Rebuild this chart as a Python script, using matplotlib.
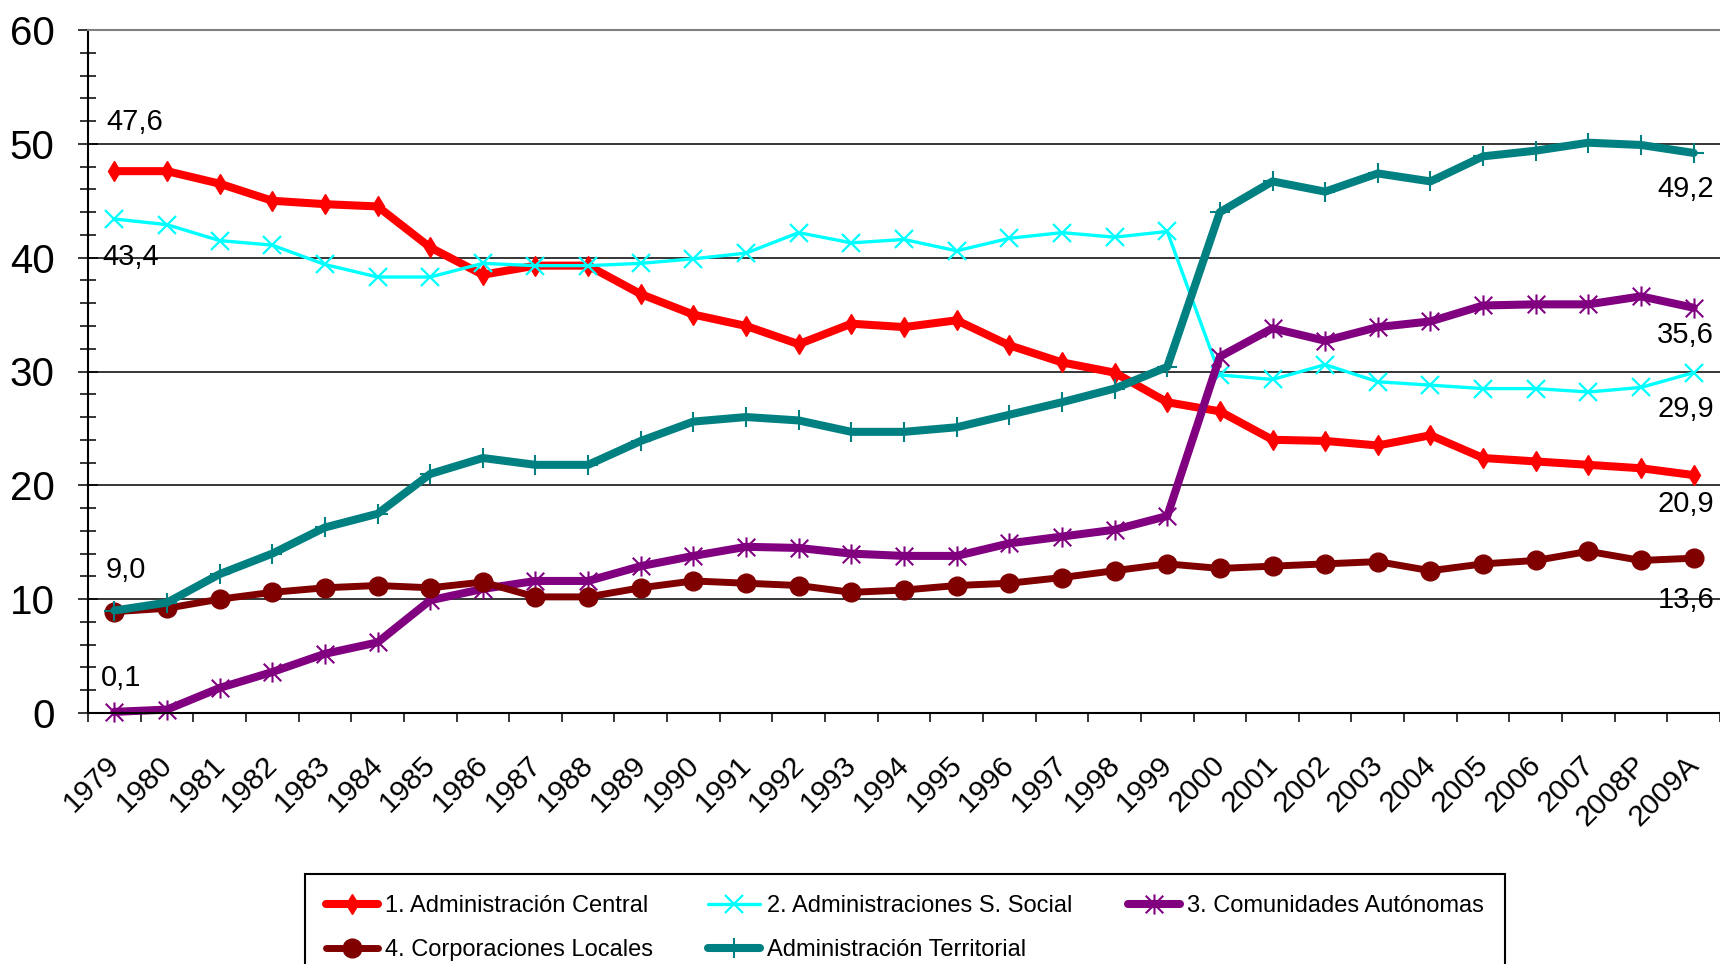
import matplotlib
matplotlib.use('Agg')
import matplotlib.pyplot as plt
from matplotlib.path import Path
from matplotlib.ticker import MultipleLocator, FixedLocator
from matplotlib.transforms import ScaledTranslation
import numpy as np

plt.rcParams['font.family'] = ['Liberation Sans', 'DejaVu Sans']

# ---------------- data ----------------
years = ['1979', '1980', '1981', '1982', '1983', '1984', '1985', '1986', '1987', '1988',
         '1989', '1990', '1991', '1992', '1993', '1994', '1995', '1996', '1997', '1998',
         '1999', '2000', '2001', '2002', '2003', '2004', '2005', '2006', '2007', '2008P',
         '2009A']

central = [47.6, 47.6, 46.5, 45.0, 44.7, 44.5, 40.9, 38.5, 39.3, 39.3,
           36.8, 35.0, 34.0, 32.4, 34.2, 33.9, 34.5, 32.3, 30.8, 29.9,
           27.3, 26.5, 24.0, 23.9, 23.5, 24.4, 22.4, 22.1, 21.8, 21.5,
           20.9]
seg_social = [43.4, 42.9, 41.5, 41.1, 39.4, 38.3, 38.3, 39.5, 39.3, 39.3,
              39.5, 39.9, 40.4, 42.2, 41.3, 41.6, 40.6, 41.7, 42.2, 41.8,
              42.3, 29.7, 29.3, 30.6, 29.1, 28.8, 28.5, 28.5, 28.2, 28.6,
              29.9]
ccaa = [0.1, 0.3, 2.2, 3.6, 5.2, 6.2, 9.9, 10.9, 11.6, 11.6,
        12.9, 13.8, 14.6, 14.5, 14.0, 13.8, 13.8, 14.9, 15.5, 16.1,
        17.3, 31.3, 33.8, 32.7, 33.9, 34.4, 35.8, 35.9, 35.9, 36.6,
        35.6]
ccll = [8.9, 9.2, 10.0, 10.6, 11.0, 11.2, 11.0, 11.5, 10.2, 10.2,
        11.0, 11.6, 11.4, 11.2, 10.6, 10.8, 11.2, 11.4, 11.9, 12.5,
        13.1, 12.7, 12.9, 13.1, 13.3, 12.5, 13.1, 13.4, 14.2, 13.4,
        13.6]
territorial = [9.0, 9.7, 12.2, 14.0, 16.3, 17.5, 21.0, 22.4, 21.8, 21.8,
               23.9, 25.6, 26.0, 25.7, 24.7, 24.7, 25.1, 26.2, 27.3, 28.5,
               30.4, 44.0, 46.7, 45.8, 47.4, 46.7, 48.9, 49.4, 50.1, 49.9,
               49.2]

series_names = ['1. Administración Central', '2. Administraciones S. Social',
                '3. Comunidades Autónomas', '4. Corporaciones Locales',
                'Administración Territorial']

# ---------------- styles ----------------
asterisk = Path([(-1, -1), (1, 1), (-1, 1), (1, -1), (0, -1.15), (0, 1.15)],
                [Path.MOVETO, Path.LINETO, Path.MOVETO, Path.LINETO, Path.MOVETO, Path.LINETO])

styles = [
    dict(color='#FF0000', lw=5.8, marker='d', ms=9.8, mew=1.0, mec='#FF0000', mfc='#FF0000'),
    dict(color='#00FFFF', lw=2.4, marker='x', ms=13.5, mew=1.6, mec='#00FFFF'),
    dict(color='#800080', lw=5.8, marker=asterisk, ms=14.5, mew=1.5, mec='#800080'),
    dict(color='#800000', lw=5.0, marker='o', ms=13.5, mew=1.0, mec='#800000', mfc='#800000'),
    dict(color='#008080', lw=5.8, marker='+', ms=14.5, mew=1.5, mec='#008080'),
]

W, H = 1720, 964
fig = plt.figure(figsize=(W / 100, H / 100), dpi=100)
ax = fig.add_axes([88 / W, 1 - 713 / H, 1 - 88 / W, (713 - 30) / H])

x = np.arange(len(years))
all_series = [central, seg_social, ccaa, ccll, territorial]
lines = []
for vals, name, st in zip(all_series, series_names, styles):
    ln, = ax.plot(x, vals, label=name, clip_on=False, solid_joinstyle='round',
                  solid_capstyle='round', **st)
    lines.append(ln)

ax.set_xlim(-0.5, len(years) - 0.5)
ax.set_ylim(0, 60)

# y axis
ax.set_yticks(range(0, 61, 10))
ax.yaxis.set_minor_locator(MultipleLocator(2))
ax.tick_params(axis='y', which='major', direction='inout', length=14.4, width=1.1,
               labelsize=29, pad=17, colors='black')
ax.tick_params(axis='y', which='minor', direction='inout', length=12, width=1.1)
ax.yaxis.grid(True, which='major', color='black', lw=1.1)
ax.set_axisbelow(True)
ax.get_ygridlines()[-1].set_color('#808080')

# x axis
ax.set_xticks(x)
ax.set_xticklabels(years, rotation=45, ha='right', va='center', rotation_mode='anchor')
ax.xaxis.set_minor_locator(FixedLocator(np.arange(-0.5, len(years), 1.0)))
ax.tick_params(axis='x', which='major', length=0, pad=34, labelsize=21.5)
ax.tick_params(axis='x', which='minor', direction='out', length=6.5, width=1.1)
off = ScaledTranslation(1 / 100, 0, fig.dpi_scale_trans)
for lab in ax.get_xticklabels():
    lab.set_transform(lab.get_transform() + off)

for side in ['left', 'bottom']:
    ax.spines[side].set_color('black')
    ax.spines[side].set_linewidth(1.5)
ax.spines['right'].set_visible(False)
ax.spines['top'].set_color('#808080')
ax.spines['top'].set_linewidth(1.5)

# data labels (first and last points)
def fmt(v):
    return f"{v:.1f}".replace('.', ',')

start_offsets = {0: (20, 49), 1: (16, -38), 2: (7, 34), 4: (11, 41)}
end_offsets = {0: (-8, -29), 1: (-8, -36), 2: (-8, -27), 3: (-8, -42), 4: (-8, -36)}
for idx, (dx, dy) in start_offsets.items():
    v = all_series[idx][0]
    ax.annotate(fmt(v), xy=(0, v), xytext=(dx, dy), textcoords='offset pixels',
                ha='center', va='center', fontsize=21)
last = len(years) - 1
for idx, (dx, dy) in end_offsets.items():
    v = all_series[idx][-1]
    ax.annotate(fmt(v), xy=(last, v), xytext=(dx, dy), textcoords='offset pixels',
                ha='center', va='center', fontsize=21)

# legend (row-major order like the original)
order = [0, 3, 1, 4, 2]
leg = fig.legend([lines[i] for i in order], [series_names[i] for i in order],
                 loc='upper left', bbox_to_anchor=(305 / W, 1 - 874 / H, 1200 / W, 0),
                 mode='expand', ncol=3, fontsize=17, numpoints=1,
                 handlelength=2.2, handletextpad=0.3, labelspacing=0.93,
                 borderpad=0.9, borderaxespad=0, fancybox=False, framealpha=1,
                 edgecolor='black')
leg.get_frame().set_linewidth(1.5)

fig.savefig('out.png', dpi=100)
